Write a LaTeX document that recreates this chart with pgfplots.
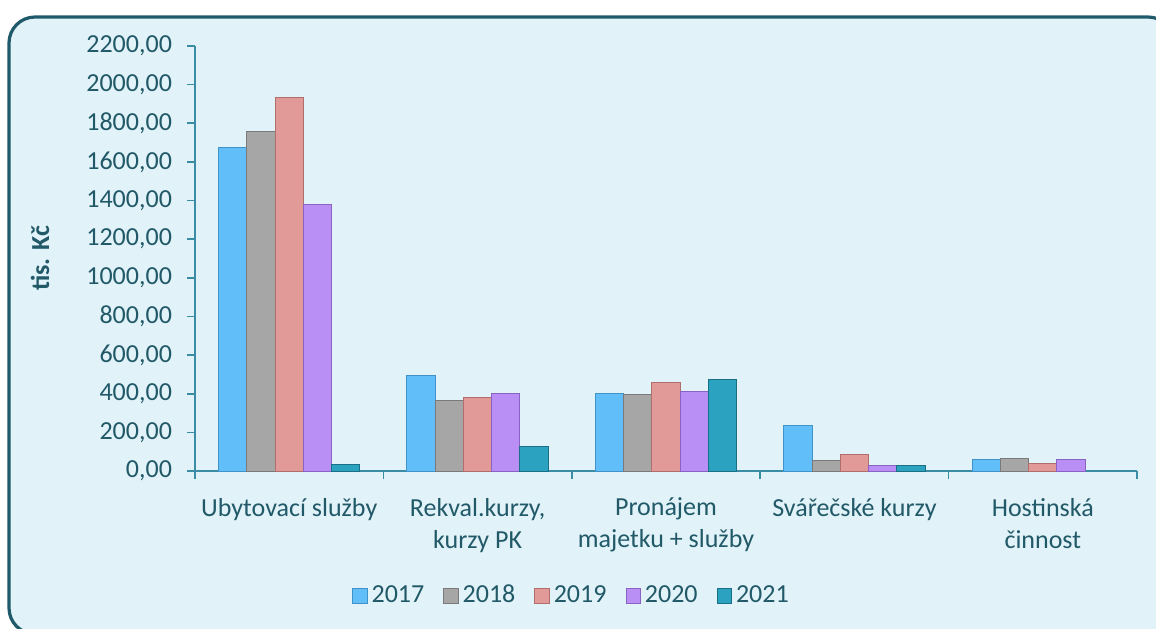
\documentclass[border=0pt]{standalone}
\usepackage{pgfplots}
\pgfplotsset{compat=1.18}
\usepackage{fontspec}
\setmainfont{Carlito}
\definecolor{bgc}{HTML}{E1F2F8}
\definecolor{brd}{HTML}{1F5A6B}
\definecolor{txt}{HTML}{215968}
\definecolor{axc}{HTML}{3A8DA5}
\definecolor{cA}{HTML}{62BEF8}
\definecolor{cAd}{HTML}{3F93C9}
\definecolor{cB}{HTML}{A6A6A6}
\definecolor{cBd}{HTML}{7A7A7A}
\definecolor{cC}{HTML}{E29A98}
\definecolor{cCd}{HTML}{B06E6C}
\definecolor{cD}{HTML}{B98FF5}
\definecolor{cDd}{HTML}{8A62C4}
\definecolor{cE}{HTML}{2BA2C0}
\definecolor{cEd}{HTML}{196F86}
\begin{document}
\fontsize{13}{16}\selectfont
\begin{tikzpicture}
\useasboundingbox (0,0) rectangle (578pt,314pt);
\begin{scope}
\clip (0,0) rectangle (578pt,314pt);
\draw[brd, line width=1.6pt, fill=bgc, rounded corners=13pt] (4.5pt,305.5pt) rectangle (587pt,-3pt);
\end{scope}
\begin{axis}[
  at={(97.5pt,78.5pt)}, anchor=south west,
  scale only axis, width=471pt, height=212.5pt,
  xmin=-0.5, xmax=4.5, ymin=0, ymax=2200,
  axis x line*=bottom, axis y line*=left,
  axis line style={draw=axc, line width=0.8pt},
  tick style={draw=axc, line width=0.8pt},
  major tick length=4pt,
  tick align=outside,
  ytick={0,200,...,2200},
  xtick={-0.5,0.5,1.5,2.5,3.5,4.5},
  xticklabels={},
  extra x ticks={0,1,2,3,4},
  extra x tick labels={Ubytovací služby, {Rekval.kurzy,\\kurzy PK}, {Pronájem\\majetku + služby}, Svářečské kurzy, {Hostinská\\činnost}},
  extra x tick style={major tick length=0pt, tick label style={align=center, anchor=north, yshift=-9pt, font=\fontsize{13}{16}\selectfont, text=txt}},
  y tick label style={font=\fontsize{13}{16}\selectfont, text=txt, xshift=-3pt},
  yticklabel style={/pgf/number format/fixed, /pgf/number format/fixed zerofill, /pgf/number format/precision=2, /pgf/number format/use comma, /pgf/number format/1000 sep={}, /pgf/number format/assume math mode=true},
  ylabel={\textbf{tis. Kč}},
  every axis y label/.style={at={(axis description cs:-0.1645,0.5)}, rotate=90, anchor=center, font=\fontsize{13}{16}\selectfont, text=txt},
  ybar=0pt, bar width=0.15,
  legend columns=5,
  legend style={at={(axis description cs:0.4007,-0.294)}, anchor=center, draw=none, fill=none, font=\fontsize{13}{16}\selectfont, text=txt, /tikz/every even column/.append style={column sep=7.5pt}},
  legend image code/.code={\draw[#1] (0pt,-3.6pt) rectangle (7.2pt,3.6pt);},
  clip=false,
]
\addplot[fill=cA, draw=cAd, line width=0.5pt] coordinates {(0,1677) (1,495) (2,402) (3,238) (4,60)};
\addplot[fill=cB, draw=cBd, line width=0.5pt] coordinates {(0,1760) (1,364) (2,398) (3,52) (4,63)};
\addplot[fill=cC, draw=cCd, line width=0.5pt] coordinates {(0,1934) (1,383) (2,457) (3,88) (4,40)};
\addplot[fill=cD, draw=cDd, line width=0.5pt] coordinates {(0,1377) (1,402) (2,410) (3,29) (4,62)};
\addplot[fill=cE, draw=cEd, line width=0.5pt] coordinates {(0,36) (1,126) (2,476) (3,27)};
\legend{2017,2018,2019,2020,2021}
\end{axis}
\end{tikzpicture}
\end{document}
